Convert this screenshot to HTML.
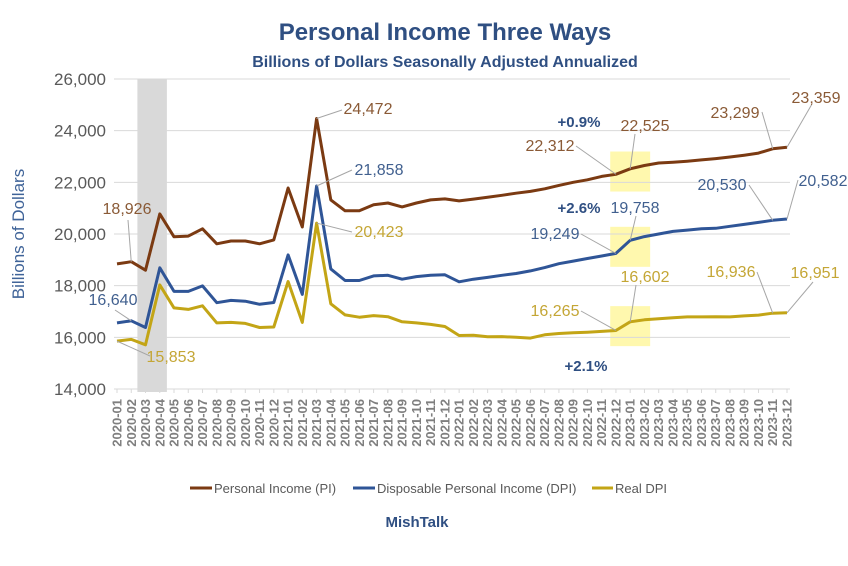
<!DOCTYPE html>
<html><head><meta charset="utf-8"><style>
body{margin:0;background:#fff;font-family:"Liberation Sans",sans-serif}
</style></head><body>
<svg width="848" height="561" viewBox="0 0 848 561" xmlns="http://www.w3.org/2000/svg">
<g id="bg"></g><g id="marks"></g><g id="labels"></g>
</svg>
<script>
const months=[];for(let y=2020;y<=2023;y++)for(let m=1;m<=12;m++)months.push(y+'-'+String(m).padStart(2,'0'));
const yTicks=[14000,16000,18000,20000,22000,24000,26000];
const piVals=[18843,18926,18600,20780,19890,19920,20200,19620,19730,19730,19620,19770,
21780,20270,24472,21320,20900,20900,21130,21200,21050,21200,21320,21360,
21280,21350,21420,21500,21580,21650,21750,21880,22000,22100,22230,22312,
22525,22650,22750,22780,22820,22870,22920,22980,23050,23130,23299,23359];
const dpiVals=[16560,16640,16380,18690,17780,17780,17990,17340,17430,17400,17280,17350,
19190,17660,21858,18650,18200,18200,18380,18400,18250,18350,18400,18420,
18150,18250,18320,18400,18470,18570,18700,18850,18950,19050,19150,19249,
19758,19900,20000,20100,20150,20200,20220,20300,20370,20450,20530,20582];
const realVals=[15853,15920,15710,18030,17140,17080,17220,16560,16580,16540,16380,16400,
18160,16580,20423,17300,16870,16780,16840,16800,16600,16560,16500,16420,
16070,16080,16020,16030,16000,15970,16100,16150,16180,16200,16230,16265,
16602,16680,16720,16760,16790,16790,16800,16790,16830,16860,16936,16951];
const NS='http://www.w3.org/2000/svg';
const X0=117,X1=787,YT=79,YB=389,VMIN=14000,VMAX=26000;
const xs=i=>X0+i*(X1-X0)/(months.length-1);
const ys=v=>YB-(v-VMIN)/(VMAX-VMIN)*(YB-YT);
function mk(tag,attrs,parent,text){const e=document.createElementNS(NS,tag);for(const k in attrs)e.setAttribute(k,attrs[k]);if(text!==undefined)e.textContent=text;document.getElementById(parent).appendChild(e);return e;}
let e=mk('rect',{x:xs(1.5)-1,y:YT,width:xs(3.5)-xs(1.5)+1,height:YB-YT+3,fill:'#d9d9d9'},'bg');


[piVals,dpiVals,realVals].forEach(arr=>{
  const cy=(ys(arr[35])+ys(arr[36]))/2;
  const r=mk('rect',{x:xs(34.6),y:cy-20,width:xs(37.4)-xs(34.6),height:40,fill:'#fff7a0',opacity:0.85},'bg');
  
  
});
yTicks.forEach(v=>{
  const g=mk('line',{x1:X0-3,x2:X1+3,y1:ys(v),y2:ys(v),stroke:'#d9d9d9','stroke-width':1},'bg');
  
  
  const t=mk('text',{x:106,y:ys(v)+6,'text-anchor':'end','font-size':17,fill:'#595959'},'labels',v.toLocaleString('en-US'));
  
  
});
months.forEach((m,i)=>{
  const tk=mk('line',{x1:xs(i),x2:xs(i),y1:YB,y2:YB+4,stroke:'#d9d9d9','stroke-width':1},'bg');
  
  
  const t=mk('text',{transform:`translate(${xs(i)+4.5},399) rotate(-90)`,'text-anchor':'end','font-size':13,'font-weight':'bold',fill:'#7f7f7f'},'labels',m);
  
  
});
[[piVals,'#7b3a12','pi-line'],[dpiVals,'#2f5597','dpi-line'],[realVals,'#c3a516','real-dpi-line']].forEach(s=>{
  const p=mk('polyline',{points:s[0].map((v,i)=>xs(i).toFixed(1)+','+ys(v).toFixed(1)).join(' '),fill:'none',stroke:s[1],'stroke-width':3,'stroke-linejoin':'round'},'marks');
  
  
});
const PI='#8a5a36',DP='#41608f',RL='#c4a635';
const callouts=[
 [piVals,1,127,214,PI,128,220],[dpiVals,1,113,305,DP,115,310],[realVals,0,171,362,RL,150,356],
 [piVals,14,368,114,PI,342,110],[dpiVals,14,379,175,DP,352,170],[realVals,14,379,237,RL,352,232],
 [piVals,35,550,151,PI,576,146],[piVals,36,645,131,PI,635,134],
 [piVals,46,735,118,PI,762,112],[piVals,47,816,103,PI,812,104],
 [dpiVals,35,555,239,DP,581,234],[dpiVals,36,635,213,DP,636,216],
 [dpiVals,46,722,190,DP,749,185],[dpiVals,47,823,186,DP,798,180],
 [realVals,35,555,316,RL,581,311],[realVals,36,645,282,RL,636,285],
 [realVals,46,731,277,RL,757,272],[realVals,47,815,278,RL,813,282]
];
callouts.forEach(c=>{
  const px=xs(c[1]),py=ys(c[0][c[1]]);
  const l=mk('polyline',{points:`${c[5]},${c[6]} ${px},${py}`,fill:'none',stroke:'#a6a6a6','stroke-width':1},'marks');
  
  
  const t=mk('text',{x:c[2],y:c[3],'text-anchor':'middle','font-size':16,fill:c[4]},'labels',c[0][c[1]].toLocaleString('en-US'));
  
  
});
</script>
<svg width="848" height="561" style="position:absolute;left:0;top:0" xmlns="http://www.w3.org/2000/svg">
<text x="445" y="40" text-anchor="middle" font-size="24" font-weight="bold" fill="#2f4f82">Personal Income Three Ways</text>
<text x="445" y="67" text-anchor="middle" font-size="16" font-weight="bold" fill="#2f4f82">Billions of Dollars Seasonally Adjusted Annualized</text>
<text transform="translate(24,234) rotate(-90)" text-anchor="middle" font-size="17" fill="#3f6398">Billions of Dollars</text>
<text x="579" y="127" text-anchor="middle" font-size="15" font-weight="bold" fill="#2f4f82">+0.9%</text>
<text x="579" y="213" text-anchor="middle" font-size="15" font-weight="bold" fill="#2f4f82">+2.6%</text>
<text x="586" y="371" text-anchor="middle" font-size="15" font-weight="bold" fill="#2f4f82">+2.1%</text>
<g font-size="13" fill="#595959">
<line x1="190" x2="212" y1="488" y2="488" stroke="#7b3a12" stroke-width="3"/>
<text x="214" y="493">Personal Income (PI)</text>
<line x1="353" x2="375" y1="488" y2="488" stroke="#2f5597" stroke-width="3"/>
<text x="377" y="493">Disposable Personal Income (DPI)</text>
<line x1="592" x2="613" y1="488" y2="488" stroke="#c3a516" stroke-width="3"/>
<text x="615" y="493">Real DPI</text>
</g>
<text x="417" y="527" text-anchor="middle" font-size="15" font-weight="bold" fill="#2f4f82">MishTalk</text>
</svg>
</body></html>
